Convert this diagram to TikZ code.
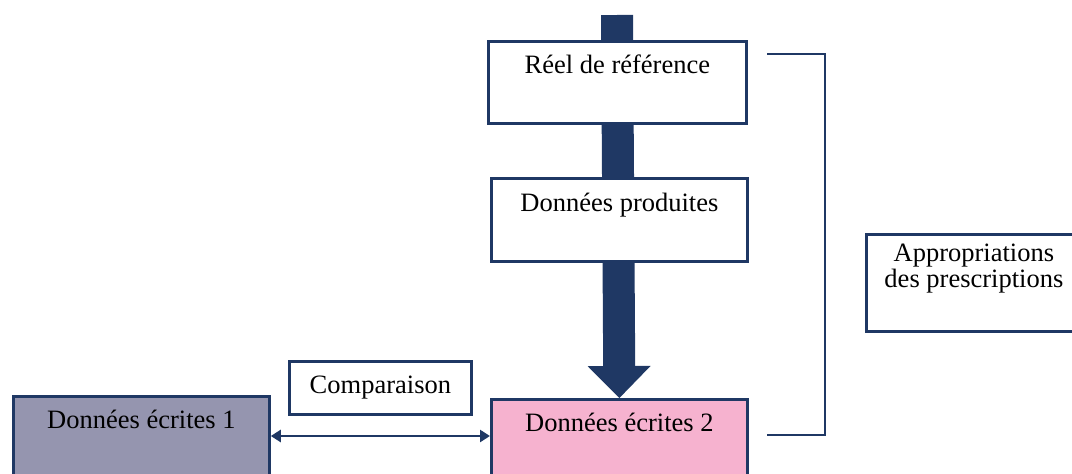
\documentclass[tikz,border=0pt]{standalone}
\usepackage{fontspec}
\setmainfont{Liberation Serif}
\usetikzlibrary{arrows.meta,backgrounds}
\definecolor{navy}{HTML}{1F3864}
\definecolor{pinkfill}{HTML}{F6B2CF}
\definecolor{grayfill}{HTML}{9595AF}
\begin{document}
\begin{tikzpicture}[x=1pt,y=-1pt,
  box/.style={draw=navy, line width=2.8pt, rectangle, anchor=north west, inner sep=0pt,
    align=center, font=\fontsize{26.5}{26}\selectfont, text=black},
  conn/.style={draw=navy, line width=2.8pt},
  bigarrow/.style={draw=navy, line width=32pt, -{Triangle[length=32pt,width=63pt,line width=0pt]}},
]
\useasboundingbox (0,0) rectangle (1072,474);
\clip (0,0) rectangle (1072,474);

\node[box, fill=white, minimum width=258pt, minimum height=82pt,
      text height=32pt, text depth=50pt] (reel) at (487,40) {Réel de référence};
\node[box, fill=white, minimum width=256pt, minimum height=83pt,
      text height=33pt, text depth=50pt] (prod) at (490,177) {Données produites};
\node[box, fill=pinkfill, minimum width=256pt, minimum height=110pt,
      text height=32pt, text depth=78pt] (de2) at (490,398) {Données écrites 2};
\node[box, fill=grayfill, minimum width=256pt, minimum height=110pt,
      text height=32pt, text depth=78pt] (de1) at (12,395) {Données écrites 1};
\node[box, fill=white, minimum width=182pt, minimum height=53pt,
      text height=32pt, text depth=21pt] (comp) at (288,360) {Comparaison};
\node[box, fill=white, minimum width=215pt, minimum height=97pt,
      text height=53pt, text depth=44pt] (appr) at (865,233) {Appropriations\\des prescriptions};

\begin{scope}[on background layer]
  \coordinate (src) at (617,15);
  \draw[bigarrow] (src) -- (de2.north);
\end{scope}

\coordinate (cmpy) at (0,436);
\draw[conn, {Triangle[length=10pt,width=12pt]}-{Triangle[length=10pt,width=12pt]}]
  (de1.east |- cmpy) -- (de2.west |- cmpy);

\coordinate (brtop) at (767,54);
\coordinate (brbot) at (767,435);
\draw[conn] (brtop) -- ++(58,0) |- (brbot);
\end{tikzpicture}
\end{document}
